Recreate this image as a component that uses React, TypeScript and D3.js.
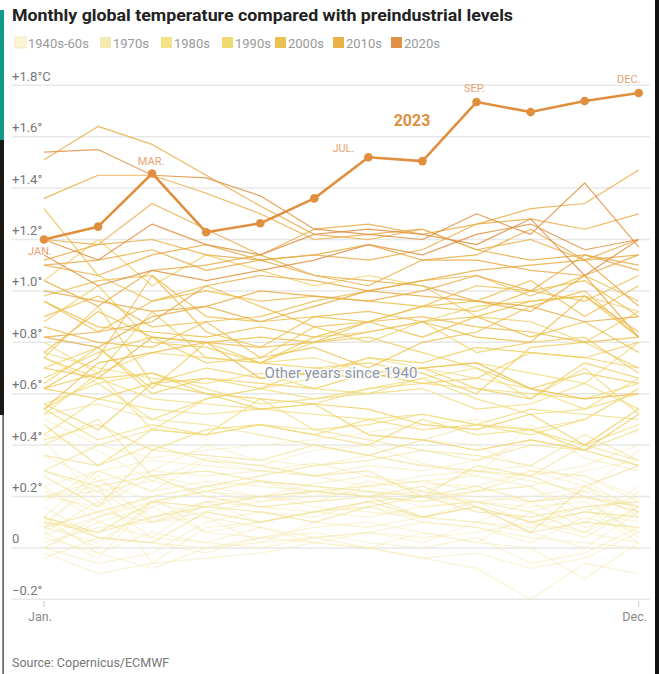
import React from "react";
import * as d3 from "d3";

const months = ["Jan","Feb","Mar","Apr","May","Jun","Jul","Aug","Sep","Oct","Nov","Dec"];
const yTicks = [-0.2, 0, 0.2, 0.4, 0.6, 0.8, 1.0, 1.2, 1.4, 1.6, 1.8];
const yTickLabels = ["\u22120.2°", "0", "+0.2°", "+0.4°", "+0.6°", "+0.8°", "+1.0°", "+1.2°", "+1.4°", "+1.6°", "+1.8°C"];

const legendLabels = ["1940s-60s", "1970s", "1980s", "1990s", "2000s", "2010s", "2020s"];
const legendColors = ["#fbf6d2", "#f4e9ae", "#f3e487", "#f2d870", "#ecc152", "#ebb04a", "#df9246"];
const lineColors = ["#f5eab2", "#f1e19a", "#f1dc7c", "#f0d066", "#ecbf50", "#e9ad48", "#df9245"];
const lineOpacity = [0.55, 0.75, 0.8, 0.85, 0.85, 0.85, 0.85];

// Monthly anomaly vs preindustrial (°C), Jan..Dec, one row per year
const temps1940s60s = [
  [0.05,0.12,0.18,0.22,0.20,0.25,0.28,0.22,0.30,0.26,0.22,0.38],
  [0.30,0.22,0.26,0.35,0.32,0.38,0.40,0.33,0.28,0.48,0.35,0.30],
  [0.42,0.18,0.30,0.28,0.30,0.33,0.28,0.25,0.24,0.30,0.28,0.20],
  [0.12,0.30,0.22,0.34,0.30,0.28,0.32,0.30,0.34,0.42,0.38,0.46],
  [0.50,0.40,0.35,0.38,0.40,0.42,0.45,0.48,0.50,0.46,0.38,0.32],
  [0.36,0.26,0.30,0.40,0.34,0.32,0.36,0.42,0.40,0.30,0.28,0.18],
  [0.20,0.24,0.12,0.18,0.10,0.14,0.16,0.12,0.18,0.14,0.20,0.04],
  [0.10,0.00,0.18,0.22,0.26,0.24,0.20,0.18,0.22,0.30,0.24,0.16],
  [0.24,0.10,0.04,0.18,0.20,0.16,0.14,0.12,0.10,0.08,0.14,0.10],
  [0.22,0.14,0.10,0.12,0.08,0.02,0.06,0.10,0.08,0.04,0.02,0.00],
  [-0.04,0.04,0.02,-0.02,0.04,0.06,0.02,0.00,0.04,-0.06,-0.02,0.08],
  [0.00,-0.06,-0.02,0.10,0.14,0.12,0.18,0.20,0.22,0.24,0.10,0.24],
  [0.20,0.22,0.10,0.18,0.16,0.14,0.18,0.20,0.18,0.10,0.04,0.16],
  [0.24,0.30,0.34,0.32,0.30,0.28,0.24,0.26,0.22,0.24,0.14,0.20],
  [0.06,0.18,0.04,0.02,0.00,0.04,0.06,0.04,0.06,0.10,0.16,0.02],
  [0.12,-0.02,-0.08,0.00,0.02,0.04,0.00,0.06,0.02,0.00,-0.12,0.02],
  [-0.02,-0.10,-0.06,-0.04,-0.02,0.02,0.00,-0.04,-0.02,-0.08,-0.04,0.06],
  [0.02,0.08,0.10,0.14,0.18,0.22,0.24,0.26,0.28,0.24,0.30,0.34],
  [0.44,0.38,0.26,0.22,0.26,0.20,0.26,0.22,0.20,0.18,0.22,0.16],
  [0.20,0.16,0.28,0.24,0.20,0.22,0.24,0.20,0.16,0.10,0.06,0.16],
  [0.10,0.24,-0.06,0.08,0.10,0.14,0.12,0.16,0.18,0.14,0.06,0.22],
  [0.18,0.30,0.22,0.26,0.24,0.22,0.20,0.22,0.18,0.16,0.18,0.06],
  [0.20,0.26,0.18,0.22,0.18,0.20,0.22,0.16,0.18,0.20,0.24,0.12],
  [0.08,0.28,0.10,0.16,0.20,0.18,0.24,0.28,0.30,0.32,0.26,0.14],
  [0.16,0.04,0.02,0.00,0.04,0.02,0.00,-0.04,-0.08,-0.20,-0.06,-0.10],
  [0.04,-0.02,0.06,0.02,0.08,0.04,0.06,0.02,0.10,0.06,0.00,0.14],
  [0.00,0.10,0.16,0.06,0.10,0.14,0.16,0.10,0.08,0.02,0.12,0.06],
  [0.06,-0.04,0.18,0.12,0.02,0.10,0.08,0.12,0.10,0.18,0.08,0.14],
  [0.00,0.12,0.20,0.06,0.04,0.08,0.10,0.06,0.02,0.14,0.06,0.02],
  [0.08,0.02,0.16,0.24,0.26,0.22,0.20,0.18,0.22,0.28,0.32,0.40],
];
const temps1970s = [
  [0.40,0.50,0.28,0.30,0.26,0.24,0.22,0.20,0.24,0.18,0.20,0.14],
  [0.10,0.06,0.12,0.16,0.14,0.10,0.16,0.20,0.14,0.12,0.16,0.18],
  [0.08,0.14,0.20,0.24,0.28,0.32,0.34,0.38,0.34,0.40,0.38,0.46],
  [0.52,0.56,0.50,0.48,0.44,0.40,0.36,0.32,0.30,0.28,0.20,0.16],
  [0.12,0.06,0.18,0.16,0.20,0.22,0.20,0.24,0.16,0.10,0.14,0.12],
  [0.30,0.24,0.28,0.20,0.16,0.18,0.20,0.12,0.16,0.06,0.10,0.08],
  [0.12,0.04,0.02,0.14,0.10,0.14,0.18,0.12,0.16,0.06,0.24,0.32],
  [0.30,0.40,0.46,0.44,0.48,0.46,0.42,0.38,0.36,0.32,0.44,0.34],
  [0.36,0.32,0.40,0.34,0.32,0.28,0.30,0.20,0.32,0.28,0.40,0.34],
  [0.28,0.16,0.38,0.36,0.34,0.40,0.36,0.42,0.48,0.46,0.50,0.62],
];
const temps1980s = [
  [0.56,0.64,0.50,0.58,0.62,0.58,0.60,0.62,0.54,0.56,0.64,0.54],
  [0.74,0.64,0.68,0.62,0.56,0.58,0.62,0.66,0.58,0.52,0.54,0.66],
  [0.42,0.48,0.38,0.46,0.48,0.44,0.50,0.46,0.48,0.44,0.50,0.62],
  [0.76,0.70,0.66,0.64,0.68,0.62,0.60,0.66,0.70,0.58,0.70,0.52],
  [0.54,0.42,0.48,0.44,0.58,0.46,0.48,0.52,0.48,0.46,0.38,0.32],
  [0.48,0.32,0.46,0.44,0.48,0.44,0.40,0.50,0.44,0.46,0.40,0.48],
  [0.54,0.66,0.58,0.56,0.54,0.52,0.50,0.52,0.48,0.54,0.52,0.50],
  [0.52,0.68,0.46,0.58,0.62,0.66,0.74,0.70,0.72,0.68,0.64,0.80],
  [0.80,0.68,0.76,0.74,0.72,0.74,0.68,0.70,0.66,0.62,0.54,0.60],
  [0.44,0.58,0.54,0.52,0.54,0.56,0.62,0.64,0.62,0.60,0.58,0.64],
];
const temps1990s = [
  [0.62,0.68,0.92,0.74,0.72,0.70,0.72,0.68,0.60,0.78,0.80,0.70],
  [0.70,0.78,0.62,0.80,0.72,0.80,0.82,0.76,0.70,0.62,0.68,0.64],
  [0.74,0.66,0.68,0.60,0.58,0.56,0.44,0.42,0.38,0.42,0.38,0.52],
  [0.62,0.58,0.64,0.60,0.54,0.56,0.54,0.48,0.46,0.52,0.40,0.54],
  [0.56,0.46,0.64,0.66,0.62,0.70,0.68,0.64,0.66,0.76,0.74,0.70],
  [0.88,1.02,0.80,0.78,0.72,0.82,0.84,0.88,0.76,0.80,0.82,0.68],
  [0.64,0.78,0.60,0.66,0.64,0.62,0.68,0.70,0.62,0.58,0.72,0.66],
  [0.66,0.76,0.82,0.72,0.74,0.86,0.80,0.88,0.94,0.96,0.98,0.92],
  [1.04,1.20,1.02,1.14,1.08,1.02,1.06,1.02,0.90,0.88,0.80,0.92],
  [0.74,0.94,0.64,0.70,0.66,0.68,0.74,0.72,0.78,0.76,0.74,0.80],
];
const temps2000s = [
  [0.54,0.72,0.76,0.80,0.66,0.68,0.66,0.70,0.72,0.62,0.58,0.60],
  [0.70,0.66,0.82,0.80,0.82,0.80,0.84,0.88,0.82,0.80,0.98,0.84],
  [0.98,1.04,1.06,0.90,0.88,0.90,0.92,0.88,0.90,0.82,0.88,0.76],
  [0.96,0.86,0.84,0.82,0.86,0.82,0.88,0.94,0.96,1.04,0.90,1.02],
  [0.90,0.98,0.86,0.88,0.74,0.78,0.70,0.80,0.84,0.94,1.00,0.82],
  [0.96,0.84,0.96,1.00,0.96,0.98,0.96,0.94,1.02,1.00,1.04,0.90],
  [0.76,0.92,0.82,0.80,0.78,0.90,0.88,0.94,0.92,1.00,0.96,1.06],
  [1.32,1.06,0.96,1.02,0.94,0.86,0.88,0.90,0.86,0.84,0.80,0.82],
  [0.62,0.74,1.06,0.84,0.78,0.80,0.88,0.82,0.90,0.96,0.98,0.82],
  [0.86,0.80,0.78,0.88,0.90,0.96,1.00,1.04,1.06,0.98,1.06,0.96],
];
const temps2010s = [
  [1.12,1.18,1.20,1.14,1.12,1.06,1.04,1.02,0.96,0.92,1.06,0.82],
  [0.82,0.78,0.90,0.94,0.88,0.94,1.00,0.98,0.96,0.94,0.88,0.90],
  [0.82,0.84,0.88,1.02,1.06,1.04,1.00,1.04,1.08,1.10,1.12,0.94],
  [1.00,0.96,0.92,0.94,1.00,0.98,0.96,1.00,1.06,1.00,1.14,1.08],
  [1.04,0.94,1.08,1.10,1.14,1.06,1.02,1.12,1.12,1.08,1.06,1.14],
  [1.10,1.12,1.16,1.08,1.12,1.14,1.12,1.16,1.26,1.32,1.34,1.47],
  [1.51,1.64,1.57,1.45,1.33,1.22,1.20,1.24,1.16,1.12,1.14,1.10],
  [1.36,1.45,1.45,1.38,1.30,1.20,1.22,1.24,1.16,1.20,1.12,1.14],
  [1.10,1.06,1.14,1.18,1.12,1.14,1.18,1.12,1.14,1.24,1.12,1.20],
  [1.20,1.18,1.34,1.24,1.14,1.24,1.26,1.22,1.26,1.28,1.24,1.30],
];
const temps2020s = [
  [1.54,1.55,1.45,1.44,1.37,1.24,1.22,1.20,1.30,1.22,1.42,1.17],
  [1.14,1.02,1.08,1.04,1.08,1.12,1.18,1.14,1.22,1.26,1.16,1.20],
  [1.20,1.12,1.26,1.18,1.14,1.22,1.24,1.22,1.18,1.28,1.06,1.20],
];
const groups = [temps1940s60s, temps1970s, temps1980s, temps1990s, temps2000s, temps2010s, temps2020s];

const temps2023 = [1.20, 1.25, 1.457, 1.228, 1.263, 1.36, 1.52, 1.505, 1.735, 1.696, 1.739, 1.77];
const labels2023 = [
  { m: 0, text: "JAN.", dx: -4, dy: 15 },
  { m: 2, text: "MAR.", dx: -1, dy: -8 },
  { m: 6, text: "JUL.", dx: -36, dy: -5 },
  { m: 8, text: "SEP.", dx: -2, dy: -10 },
  { m: 11, text: "DEC.", dx: -10, dy: -10 },
];

const W = 659, H = 674;
const FONT = "Roboto, 'Liberation Sans', Arial, sans-serif";

export default function App() {
  const x = d3.scaleLinear().domain([0, 11]).range([44, 638.7]);
  const y = d3.scaleLinear().domain([-0.2, 1.8]).range([599.3, 85.3]);
  const line = d3.line<number>().x((_, i) => x(i)).y((d) => y(d));

  const legendX = [15, 100, 161, 222, 275, 333, 391];

  return (
    <div style={{ position: "absolute", left: 0, top: 0, width: W, height: H }}>
      <svg width={W} height={H} style={{ display: "block", fontFamily: FONT }}>
        <rect width={W} height={H} fill="#ffffff" />
        {/* screenshot frame artifacts */}
        <rect x={0} y={10} width={4} height={130} fill="#139a86" />
        <rect x={0} y={140} width={4} height={275} fill="#1b1712" />
        <rect x={2.5} y={415} width={1.2} height={259} fill="#2a2a2a" />
        <rect x={655} y={0} width={4} height={H} fill="#121212" />

        <text x={12} y={21} fontSize={16.5} fontWeight={700} fill="#222"
          textLength={501} lengthAdjust="spacingAndGlyphs">
          Monthly global temperature compared with preindustrial levels
        </text>

        {legendLabels.map((lab, i) => (
          <g key={lab}>
            <rect x={legendX[i]} y={37} width={11} height={11} fill={legendColors[i]}
              stroke={i === 0 ? "#eee7bf" : "none"} strokeWidth={0.8} />
            <text x={legendX[i] + 13} y={47.5} fontSize={13} fill="#9a9a9a">{lab}</text>
          </g>
        ))}

        {yTicks.map((t, i) => (
          <g key={t}>
            <line x1={12} x2={650} y1={y(t)} y2={y(t)} stroke="#e8e8e8" strokeWidth={1.5} />
            <text x={12} y={y(t) - 4.5} fontSize={13} fill="#777">{yTickLabels[i]}</text>
          </g>
        ))}

        {groups.map((g, gi) => (
          <g key={gi} fill="none" stroke={lineColors[gi]} strokeWidth={1.2} strokeOpacity={lineOpacity[gi]}
            strokeLinejoin="round">
            {g.map((vals, yi) => (
              <path key={yi} d={line(vals) || ""} />
            ))}
          </g>
        ))}

        <text x={341} y={378} fontSize={15} fill="#8c96aa" textAnchor="middle"
          stroke="#ffffff" strokeWidth={3} strokeOpacity={0.9}
          style={{ paintOrder: "stroke" }}>
          Other years since 1940
        </text>

        <path d={line(temps2023) || ""} fill="none" stroke="#e08f3f" strokeWidth={2.6} strokeLinejoin="round" />
        {temps2023.map((v, i) => (
          <circle key={i} cx={x(i)} cy={y(v)} r={4.3} fill="#e08f3f" />
        ))}
        {labels2023.map((l) => (
          <text key={l.text} x={x(l.m) + l.dx} y={y(temps2023[l.m]) + l.dy} fontSize={11}
            fill="#e7a274" textAnchor={l.m === 6 ? "start" : "middle"}>
            {l.text}
          </text>
        ))}
        <text x={412} y={126} fontSize={16} fontWeight={700} fill="#e08f3f" textAnchor="middle">2023</text>

        <line x1={x(0)} x2={x(0)} y1={601} y2={607} stroke="#ccc" />
        <line x1={x(11)} x2={x(11)} y1={601} y2={607} stroke="#ccc" />
        <text x={x(0) - 4} y={621} fontSize={12.5} fill="#888" textAnchor="middle">Jan.</text>
        <text x={x(11) - 4} y={621} fontSize={12.5} fill="#888" textAnchor="middle">Dec.</text>

        <text x={12} y={667} fontSize={12.5} fill="#777">Source: Copernicus/ECMWF</text>
      </svg>
    </div>
  );
}
